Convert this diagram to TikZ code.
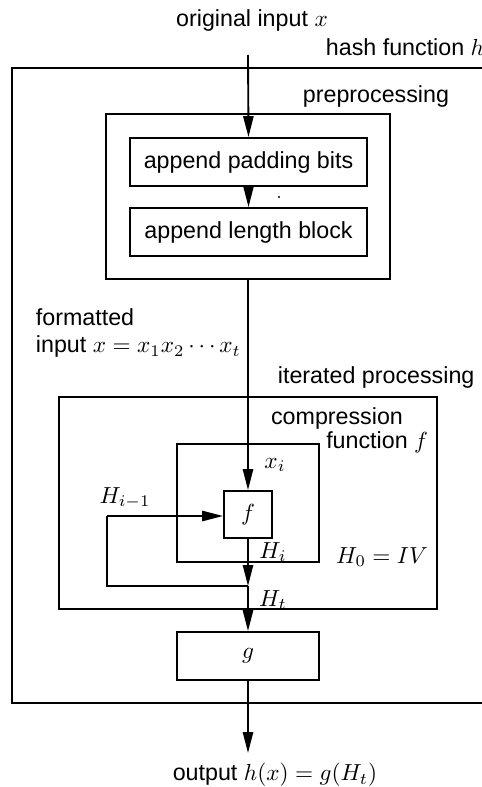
\documentclass[tikz,border=0pt]{standalone}
\usepackage{fontspec}
\setmainfont{Liberation Sans}
\usetikzlibrary{arrows.meta,fit}
\begin{document}
\begin{tikzpicture}[x=0.43pt,y=-0.43pt,line width=0.8pt,
  box/.style={draw,inner sep=0pt},
  arr/.style={-{Triangle[length=9pt,width=4.4pt]}},
  txt/.style={inner sep=0pt,font=\fontsize{10}{12}\selectfont}]
\useasboundingbox (0,0) rectangle (482,787);
% outer hash function box (right side beyond picture)
\draw (482,68) -- (12,68) -- (12,703) -- (482,703);
\node[txt,anchor=west] (hashlbl) at (325,47) {hash function $h$};
% input
\node[txt] (orig) at (252,20) {original input $x$};
\coordinate (in) at (248,55);
% preprocessing
\node[box,fit={(106,114) (390,279)}] (pre) {};
\node[txt,anchor=west] (prelbl) at (302,96) {preprocessing};
\node[box,fit={(130,138) (367,186)},label={[txt]center:append padding bits}] (pad) {};
\node[box,fit={(130,208) (367,256)},label={[txt]center:append length block}] (len) {};
\fill (279,197) circle (1.2);
% formatted input
\node[txt,anchor=west,align=left] (fmt) at (35,333) {formatted\\input $x=x_1x_2\cdots x_t$};
% iterated processing
\node[box,fit={(59,397) (437,609)}] (iter) {};
\node[txt,anchor=west] (iterlbl) at (277,377) {iterated processing};
\node[txt] (complbl) at (337,418) {compression};
\node[txt,anchor=east] (funclbl) at (429,442) {function $f$};
\node[box,fit={(177,444) (319,562)}] (comp) {};
\node[box,fit={(224,491) (272,538)},label={[txt]center:$f$}] (f) {};
\node[txt] (xi) at (275,465) {$x_i$};
\node[txt] (hprev) at (125,498) {$H_{i-1}$};
\node[txt] (hi) at (273,552) {$H_i$};
\node[txt] (h0) at (382,557) {$H_0=IV$};
\node[txt] (ht) at (273,600) {$H_t$};
\coordinate (junc) at (248,586);
\coordinate (fbl) at (107,586);
\coordinate (ftl) at (107,516);
% g and output
\node[box,fit={(177,632) (319,680)},label={[txt]center:$g$}] (g) {};
\coordinate (outtip) at (248,753);
\node[txt] (out) at (275,775) {output $h(x)=g(H_t)$};
% connectors
\draw[arr] (in) -- (pad.north);
\draw[arr] (pad.south) -- (len.north);
\draw[arr] (pre.south) -- (f.north);
\draw[arr] (f.south) -- (junc);
\draw (junc) -- (fbl) -- (ftl);
\draw[arr] (ftl) -- (ftl -| f.west);
\draw[arr] (junc) -- (g.north);
\draw[arr] (g.south) -- (outtip);
\end{tikzpicture}
\end{document}
